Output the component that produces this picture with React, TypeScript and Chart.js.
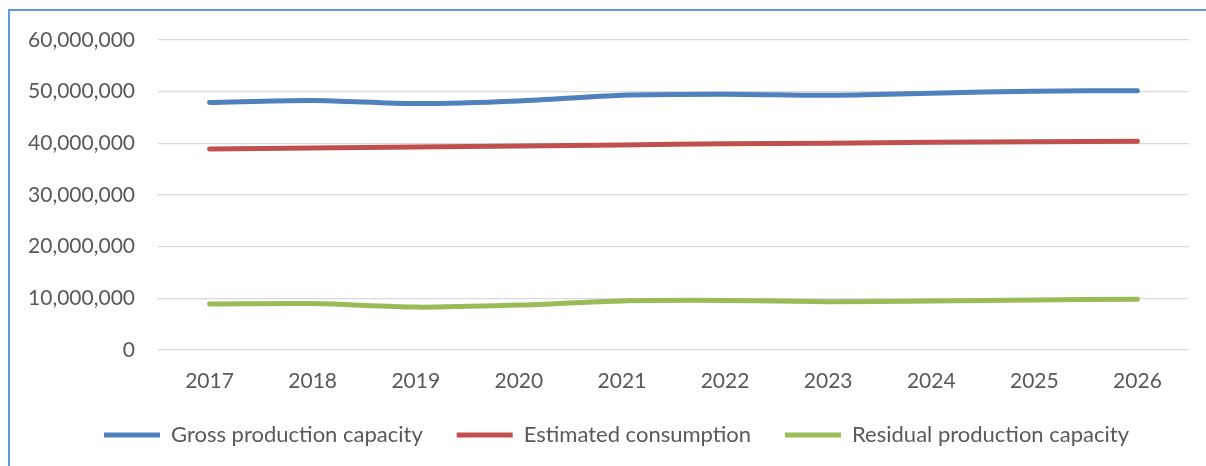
import { useEffect, useRef } from "react"
import { Chart, registerables } from "chart.js"

Chart.register(...registerables)

const years = ["2017", "2018", "2019", "2020", "2021", "2022", "2023", "2024", "2025", "2026"]
const grossCapacity = [47900000, 48300000, 47700000, 48200000, 49300000, 49500000, 49300000, 49700000, 50100000, 50200000]
const estimatedConsumption = [38900000, 39100000, 39300000, 39500000, 39700000, 39900000, 40000000, 40200000, 40300000, 40400000]
const residualCapacity = [8900000, 9000000, 8300000, 8700000, 9500000, 9600000, 9350000, 9500000, 9700000, 9800000]

const textColor = "#595959"
const font = "Lato, 'Open Sans', sans-serif"

export default function App() {
  const canvasRef = useRef<HTMLCanvasElement>(null)
  const chartRef = useRef<Chart | null>(null)

  useEffect(() => {
    if (!canvasRef.current) return
    if (chartRef.current) chartRef.current.destroy()

    const line = (label: string, data: number[], color: string) => ({
      label,
      data,
      borderColor: color,
      backgroundColor: color,
      borderWidth: 5,
      borderCapStyle: "round" as const,
      borderJoinStyle: "round" as const,
      pointRadius: 0,
      tension: 0.3,
      fill: false,
    })

    chartRef.current = new Chart(canvasRef.current, {
      type: "line",
      data: {
        labels: years,
        datasets: [
          line("Gross production capacity", grossCapacity, "#4F81BD"),
          line("Estimated consumption", estimatedConsumption, "#C0504D"),
          line("Residual production capacity", residualCapacity, "#9BBB59"),
        ],
      },
      options: {
        animation: false,
        responsive: true,
        maintainAspectRatio: false,
        layout: { padding: { left: 0, right: 0, top: 40, bottom: 10 } },
        scales: {
          x: {
            offset: true,
            grid: { display: false, drawTicks: false },
            border: { display: false },
            ticks: { color: textColor, font: { family: font, size: 21 }, padding: 19 },
            afterFit: (scale) => {
              scale.height = 40
            },
          },
          y: {
            min: 0,
            max: 60000000,
            grid: { color: "#D9D9D9", lineWidth: 1.3, drawTicks: false },
            border: { display: false },
            ticks: {
              stepSize: 10000000,
              color: textColor,
              font: { family: font, size: 21 },
              padding: 23,
              callback: (v) => Number(v).toLocaleString("en-US"),
            },
            afterFit: (scale) => {
              scale.width = 158
            },
          },
          y2: {
            position: "right",
            display: true,
            grid: { display: false, drawTicks: false },
            border: { display: false },
            ticks: { display: false },
            afterFit: (scale) => {
              scale.width = 44
            },
          },
        },
        plugins: {
          tooltip: { enabled: false },
          legend: {
            position: "bottom",
            labels: {
              usePointStyle: true,
              pointStyle: "line",
              pointStyleWidth: 56,
              padding: 34,
              color: textColor,
              font: { family: font, size: 22 },
            },
          },
        },
      },
    })

    return () => {
      if (chartRef.current) {
        chartRef.current.destroy()
        chartRef.current = null
      }
    }
  }, [])

  return (
    <div style={{ position: "absolute", left: 0, top: 0, width: 1206, height: 466, overflow: "hidden", background: "#fff" }}>
      <div
        style={{
          position: "absolute",
          left: 8,
          top: 9,
          width: 1300,
          height: 500,
          borderTop: "2px solid #5B9BD5",
          borderLeft: "2px solid #5B9BD5",
        }}
      />
      <div style={{ position: "absolute", left: 0, top: 0, width: 1233, height: 466 }}>
        <canvas ref={canvasRef} />
      </div>
    </div>
  )
}
